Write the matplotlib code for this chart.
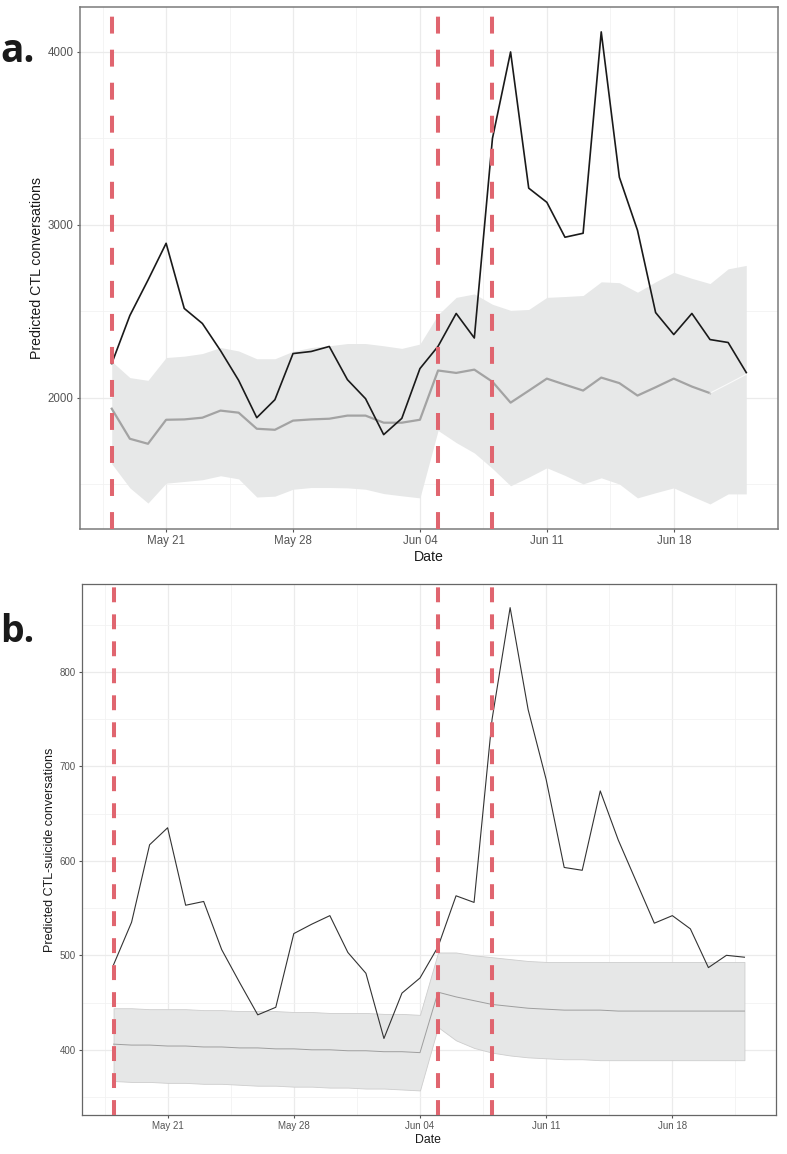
import numpy as np
import pandas as pd
import matplotlib
matplotlib.use('Agg')
import matplotlib.pyplot as plt
import matplotlib.dates as mdates

plt.rcParams['font.family'] = ['Liberation Sans', 'DejaVu Sans']

# daily dates, May 18 - Jun 22
dates = pd.date_range('2020-05-18', '2020-06-22', freq='D')
event_dates = pd.to_datetime(['2020-05-18', '2020-06-05', '2020-06-08'])

# panel a: all CTL conversations
observed_a = [2197, 2475, 2680, 2893, 2516, 2429, 2272, 2100, 1884, 1988,
              2255, 2267, 2296, 2104, 1994, 1786, 1880, 2168, 2297, 2487,
              2345, 3500, 4000, 3212, 3130, 2928, 2951, 4116, 3275, 2968,
              2492, 2365, 2487, 2336, 2319, 2145]
predicted_a = [1936, 1762, 1733, 1872, 1874, 1884, 1925, 1913, 1820, 1814,
               1867, 1874, 1878, 1896, 1896, 1855, 1855, 1872, 2157, 2143,
               2162, 2092, 1971, 2040, 2110, 2075, 2041, 2116, 2084, 2012,
               2060, 2110, 2064, 2026]
predicted_a_tail = [2026, 2080, 2135]
upper_a = [2210, 2116, 2100, 2232, 2240, 2255, 2290, 2270, 2225, 2225,
           2268, 2290, 2300, 2313, 2313, 2300, 2285, 2310, 2480, 2580,
           2600, 2540, 2505, 2510, 2580, 2585, 2591, 2670, 2665, 2610,
           2670, 2725, 2690, 2660, 2745, 2765]
lower_a = [1617, 1478, 1390, 1505, 1515, 1525, 1548, 1530, 1425, 1430,
           1470, 1480, 1480, 1478, 1470, 1445, 1432, 1420, 1810, 1740,
           1680, 1590, 1490, 1540, 1594, 1550, 1501, 1536, 1500, 1420,
           1450, 1478, 1430, 1385, 1443, 1443]

# panel b: CTL suicide conversations
observed_b = [490, 535, 617, 635, 553, 557, 506, 471, 437, 445,
              523, 533, 542, 503, 481, 412, 460, 476, 509, 563,
              556, 750, 868, 760, 686, 593, 590, 674, 622, 578,
              534, 542, 528, 487, 500, 498]
predicted_b = [406, 405, 405, 404, 404, 403, 403, 402, 402, 401,
               401, 400, 400, 399, 399, 398, 398, 397, 461, 456,
               452, 448, 446, 444, 443, 442, 442, 442, 441, 441,
               441, 441, 441, 441, 441, 441]
upper_b = [444, 444, 443, 443, 443, 442, 442, 441, 441, 441,
           440, 440, 439, 439, 439, 438, 438, 437, 503, 503,
           500, 498, 496, 494, 493, 493, 493, 493, 493, 493,
           493, 493, 493, 493, 493, 493]
lower_b = [367, 366, 366, 365, 365, 364, 364, 363, 362, 362,
           361, 361, 360, 360, 359, 359, 358, 357, 424, 410,
           402, 397, 394, 392, 391, 390, 390, 389, 389, 389,
           389, 389, 389, 389, 389, 389]

tick_dates = pd.to_datetime(['2020-05-21', '2020-05-28', '2020-06-04',
                             '2020-06-11', '2020-06-18'])

W, H = 787, 1154
fig = plt.figure(figsize=(W / 100, H / 100), dpi=100)

ax_a = fig.add_axes([80 / W, 1 - 529 / H, 698 / W, 522 / H])
ax_b = fig.add_axes([82 / W, 1 - 1115 / H, 694 / W, 531 / H])


def style_axes(ax, ylim, major, minor, tick_size, border_col, border_lw):
    ax.set_xlim(dates[0] - pd.Timedelta(hours=42), dates[-1] + pd.Timedelta(hours=42))
    ax.set_ylim(*ylim)
    ax.set_xticks(tick_dates)
    minor_x = [d - pd.Timedelta(hours=84) for d in tick_dates] + [tick_dates[-1] + pd.Timedelta(hours=84)]
    ax.set_xticks(minor_x, minor=True)
    ax.xaxis.set_major_formatter(mdates.DateFormatter('%b %d'))
    ax.set_yticks(major)
    ax.set_yticks(minor, minor=True)
    ax.grid(True, which='major', color='#ebebeb', lw=0.9, zorder=0)
    ax.grid(True, which='minor', color='#f2f2f2', lw=0.6, zorder=0)
    ax.set_axisbelow(True)
    ax.tick_params(which='major', length=2.5, width=0.8, color='#555555',
                   labelsize=tick_size, labelcolor='#555555', pad=2)
    ax.tick_params(which='minor', length=0)
    for s in ax.spines.values():
        s.set_color(border_col)
        s.set_linewidth(border_lw)


# ---- panel a ----
ax = ax_a
style_axes(ax, (1240, 4260), [2000, 3000, 4000], [1500, 2500, 3500],
           8.3, '#7a7a7a', 1.1)
ax.fill_between(dates, lower_a, upper_a, color='#e7e8e8', lw=0, zorder=1)
ax.plot(dates[:len(predicted_a)], predicted_a, color='#a3a3a3', lw=1.6, zorder=2)
ax.plot(dates[-3:], predicted_a_tail, color='white', lw=0.8, alpha=0.8, zorder=2)
ax.plot(dates, observed_a, color='#1a1a1a', lw=1.2, zorder=3)
for d in event_dates:
    ax.axvline(d, color='#e0656f', lw=2.9, ls=(0, (4.2, 4.0)), zorder=4)

# ---- panel b ----
ax = ax_b
style_axes(ax, (331, 893), [400, 500, 600, 700, 800],
           [350, 450, 550, 650, 750, 850], 7, '#666666', 0.9)
ax.fill_between(dates, lower_b, upper_b, facecolor='#e6e7e7',
                edgecolor='#cdcdcd', lw=0.6, zorder=1)
ax.plot(dates, predicted_b, color='#9e9e9e', lw=0.7, zorder=2)
ax.plot(dates, observed_b, color='#333333', lw=0.8, zorder=3)
for d in event_dates:
    ax.axvline(d, color='#e0656f', lw=2.9, ls=(0, (3.7, 3.0)), zorder=4)

# axis titles
fig.text(37 / W, 1 - 268 / H, 'Predicted CTL conversations', rotation=90,
         ha='center', va='center', fontsize=10.2, color='#1a1a1a')
fig.text(429 / W, 1 - 557 / H, 'Date', ha='center', va='center',
         fontsize=10.2, color='#1a1a1a')
fig.text(50 / W, 1 - 850 / H, 'Predicted CTL-suicide conversations', rotation=90,
         ha='center', va='center', fontsize=9, color='#1a1a1a')
fig.text(428 / W, 1 - 1140 / H, 'Date', ha='center', va='center',
         fontsize=8.8, color='#1a1a1a')

# panel letters
fig.text(0 / W, 1 - 62 / H, 'a.', ha='left', va='baseline', fontsize=28,
         fontweight='bold', family=['Open Sans', 'DejaVu Sans'], color='#1a1a1a')
fig.text(0 / W, 1 - 642 / H, 'b.', ha='left', va='baseline', fontsize=27,
         fontweight='bold', family=['Open Sans', 'DejaVu Sans'], color='#1a1a1a')

fig.savefig('out.png', dpi=100, facecolor='white')
